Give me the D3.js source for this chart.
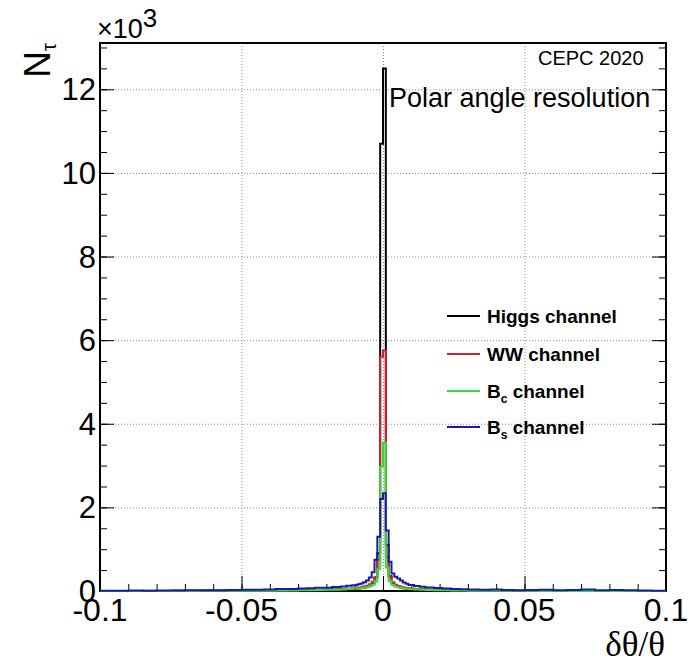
<!DOCTYPE html>
<html>
<head>
<meta charset="utf-8">
<script src="https://cdn.jsdelivr.net/npm/d3@7"></script>
<style>
  body { margin: 0; background: #fff; }
  text { font-family: "Liberation Sans", Arial, Helvetica, sans-serif; }
</style>
</head>
<body>
<svg id="chart" width="695" height="663"></svg>
<script>
// Bin edges of the δθ/θ histograms (fine binning around the peak)
const binEdges = [
  -0.1, -0.095, -0.09, -0.085, -0.08, -0.075, -0.07, -0.065, -0.06, -0.055,
  -0.05, -0.046, -0.042, -0.038, -0.034, -0.03, -0.027, -0.024, -0.021, -0.018,
  -0.015, -0.013, -0.011, -0.009, -0.008, -0.007, -0.006, -0.005, -0.004, -0.003,
  -0.002, -0.001, 0,
  0.001, 0.002, 0.003, 0.004, 0.005, 0.006, 0.007, 0.008, 0.009, 0.011,
  0.013, 0.015, 0.018, 0.021, 0.024, 0.027, 0.03, 0.034, 0.038, 0.042,
  0.046, 0.05, 0.055, 0.06, 0.065, 0.07, 0.075, 0.08, 0.085, 0.09, 0.095, 0.1
];

// Entries per bin for each channel
const higgsCounts = [
  2, 2, 3, 2, 3, 4, 3, 5, 4, 6, 6, 8, 7, 10, 12, 15, 18, 20, 25, 30,
  35, 42, 50, 60, 70, 85, 100, 130, 180, 320, 900, 10700,
  12500, 1100, 350, 190, 130, 100, 80, 65, 55, 45, 38, 30, 25, 20, 17, 14,
  12, 10, 8, 7, 6, 5, 4, 4, 3, 3, 2, 3, 2, 2, 2, 1
];
const wwCounts = [
  2, 3, 2, 4, 3, 5, 4, 6, 5, 8, 9, 10, 12, 14, 18, 22, 26, 30, 36, 42,
  50, 58, 68, 78, 90, 105, 125, 160, 220, 330, 750, 5600,
  5750, 820, 330, 210, 150, 120, 100, 85, 72, 60, 50, 42, 35, 28, 22, 18,
  15, 12, 10, 9, 7, 6, 5, 5, 4, 3, 3, 3, 2, 2, 2, 1
];
const bcCounts = [
  1, 2, 1, 2, 2, 3, 3, 4, 4, 5, 6, 7, 8, 10, 12, 15, 18, 22, 27, 32,
  38, 45, 52, 60, 68, 78, 92, 115, 150, 230, 520, 2970,
  3550, 560, 240, 150, 110, 90, 75, 62, 52, 43, 36, 30, 24, 19, 15, 12,
  10, 8, 7, 6, 5, 4, 4, 3, 3, 2, 2, 2, 2, 1, 1, 1
];
const bsCounts = [
  5, 5, 10, 8, 12, 10, 15, 20, 18, 25, 30, 28, 35, 45, 50, 60, 65, 75, 80, 95,
  110, 125, 140, 160, 180, 210, 250, 320, 450, 750, 1300, 2200,
  2340, 1450, 700, 420, 340, 300, 250, 205, 175, 145, 120, 100, 85, 70, 60, 50,
  40, 35, 30, 35, 25, 20, 25, 30, 20, 25, 35, 20, 25, 15, 10, 5
];

const seriesNames = ["Higgs channel", "WW channel", "B_c channel", "B_s channel"];
const seriesColors = ["#000000", "#d42030", "#33dd33", "#1a1aa8"];

const xTicks = [-0.1, -0.05, 0, 0.05, 0.1];
const xTickLabels = ["-0.1", "-0.05", "0", "0.05", "0.1"];
const yTicks = [0, 2000, 4000, 6000, 8000, 10000, 12000];
const yTickLabels = ["0", "2", "4", "6", "8", "10", "12"];
const yMax = 13107;

const svg = d3.select("#chart");
const L = 100, R = 666, T = 43, B = 591;

const x = d3.scaleLinear().domain([-0.1, 0.1]).range([L, R]);
const y = d3.scaleLinear().domain([0, yMax]).range([B, T]);

svg.append("rect").attr("width", 695).attr("height", 663).attr("fill", "#fff");

// Dotted grid at the labelled ticks
const grid = svg.append("g").attr("stroke", "#8a8a8a").attr("stroke-width", 1)
  .attr("stroke-dasharray", "1,2");
grid.selectAll("line.gx").data(xTicks.slice(1, -1)).join("line")
  .attr("x1", d => x(d) + 0.5).attr("x2", d => x(d) + 0.5)
  .attr("y1", T).attr("y2", B);
grid.selectAll("line.gy").data(yTicks.slice(1)).join("line")
  .attr("x1", L).attr("x2", R)
  .attr("y1", d => y(d) + 0.5).attr("y2", d => y(d) + 0.5);

// Axis ticks, drawn inside the frame
const xMinor = d3.range(-10, 11).map(i => i / 100);
const yMinor = d3.range(0, 27).map(i => i * 500).filter(v => v <= yMax);

function cleanAxis(g) {
  g.select(".domain").remove();
  g.selectAll(".tick line").attr("stroke", "#000").attr("stroke-width", 1);
}
svg.append("g").attr("transform", `translate(0,${B})`)
  .call(d3.axisBottom(x).tickValues(xMinor).tickSize(-7).tickFormat(""))
  .call(cleanAxis);
svg.append("g").attr("transform", `translate(0,${B})`)
  .call(d3.axisBottom(x).tickValues(xTicks).tickSize(-15).tickFormat(""))
  .call(cleanAxis);
svg.append("g").attr("transform", `translate(${L},0)`)
  .call(d3.axisLeft(y).tickValues(yMinor).tickSize(-7).tickFormat(""))
  .call(cleanAxis);
svg.append("g").attr("transform", `translate(${L},0)`)
  .call(d3.axisLeft(y).tickValues(yTicks).tickSize(-14).tickFormat(""))
  .call(cleanAxis);
svg.append("g").attr("transform", `translate(${R},0)`)
  .call(d3.axisRight(y).tickValues(yMinor).tickSize(-7).tickFormat(""))
  .call(cleanAxis);
svg.append("g").attr("transform", `translate(${R},0)`)
  .call(d3.axisRight(y).tickValues(yTicks).tickSize(-14).tickFormat(""))
  .call(cleanAxis);

// Frame
svg.append("rect").attr("x", L).attr("y", T).attr("width", R - L).attr("height", B - T)
  .attr("fill", "none").attr("stroke", "#000").attr("stroke-width", 2);

// Histograms as step outlines
svg.append("clipPath").attr("id", "plotClip").append("rect")
  .attr("x", L).attr("y", T).attr("width", R - L).attr("height", B - T + 2);

const allCounts = [higgsCounts, wwCounts, bcCounts, bsCounts];
const stepLine = d3.line().x(d => x(d[0])).y(d => y(d[1]));
allCounts.forEach((counts, k) => {
  const pts = [];
  counts.forEach((v, i) => {
    pts.push([binEdges[i], v]);
    pts.push([binEdges[i + 1], v]);
  });
  svg.append("path")
    .attr("clip-path", "url(#plotClip)")
    .attr("d", stepLine(pts))
    .attr("fill", "none")
    .attr("stroke", seriesColors[k])
    .attr("stroke-width", 2)
    .attr("stroke-linejoin", "miter");
});

// Tick labels
svg.append("g").selectAll("text").data(xTicks).join("text")
  .attr("x", d => x(d)).attr("y", 621)
  .attr("text-anchor", "middle").attr("font-size", 32)
  .text((d, i) => xTickLabels[i]);
svg.append("g").selectAll("text").data(yTicks).join("text")
  .attr("x", 96).attr("y", d => y(d) + 11)
  .attr("text-anchor", "end").attr("font-size", 31)
  .text((d, i) => yTickLabels[i]);

// Exponent label
const expo = svg.append("text").attr("x", 97).attr("y", 38).attr("font-size", 27);
expo.append("tspan").text("\u00d710");
expo.append("tspan").attr("dy", -11).attr("font-size", 26).text("3");

// Axis titles
const yTitle = svg.append("text")
  .attr("transform", `translate(50,${T}) rotate(-90)`)
  .attr("text-anchor", "end").attr("font-size", 37);
yTitle.append("tspan").text("N");
yTitle.append("tspan").attr("dy", 6).attr("font-size", 20).text("\u03c4");

svg.append("text").attr("x", R - 1).attr("y", 656)
  .attr("text-anchor", "end").attr("font-size", 35)
  .style("font-family", "'Liberation Serif', 'Times New Roman', serif")
  .text("\u03b4\u03b8/\u03b8");

// Annotations
svg.append("text").attr("x", 538).attr("y", 65).attr("font-size", 20).text("CEPC 2020");
svg.append("text").attr("x", 389).attr("y", 107).attr("font-size", 27).text("Polar angle resolution");

// Legend
const legendY = [316, 354, 391, 427];
const legend = svg.append("g");
seriesNames.forEach((name, k) => {
  legend.append("line")
    .attr("x1", 447).attr("x2", 480)
    .attr("y1", legendY[k]).attr("y2", legendY[k])
    .attr("stroke", seriesColors[k]).attr("stroke-width", 2);
  const t = legend.append("text")
    .attr("x", 487).attr("y", legendY[k] + 7)
    .attr("font-size", 19).attr("font-weight", "bold");
  const parts = name.split("_");
  if (parts.length === 1) {
    t.text(name);
  } else {
    const rest = parts[1].split(" ");
    t.append("tspan").text(parts[0]);
    t.append("tspan").attr("dy", 5).attr("font-size", 12).text(rest[0]);
    t.append("tspan").attr("dy", -5).text(" " + rest.slice(1).join(" "));
  }
});
</script>
</body>
</html>
